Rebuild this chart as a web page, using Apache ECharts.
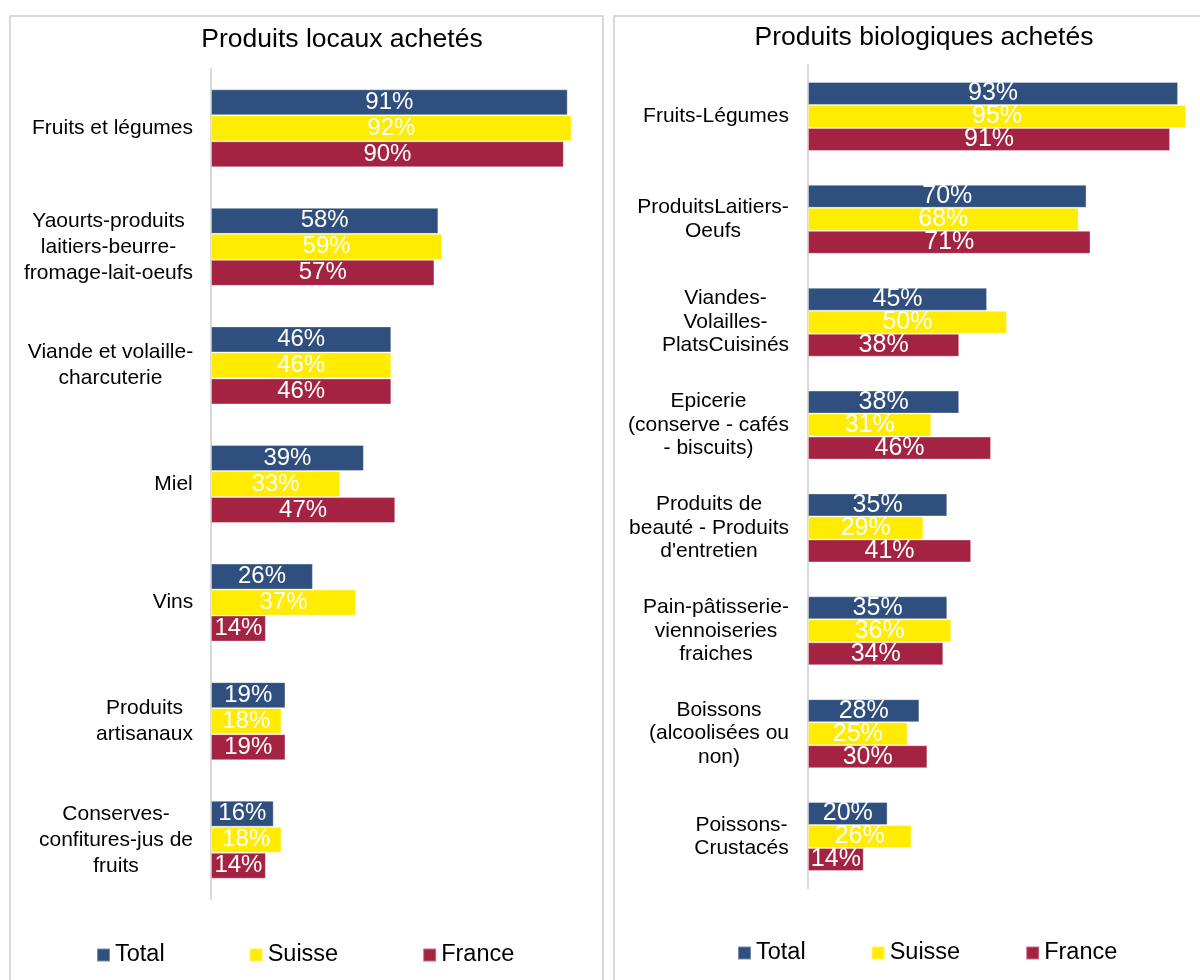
<!DOCTYPE html>
<html>
<head>
<meta charset="utf-8">
<script src="https://cdn.jsdelivr.net/npm/echarts@6/dist/echarts.min.js"></script>
<style>
  html, body { margin: 0; padding: 0; background: #fff; }
  #chart { width: 1200px; height: 980px; }
</style>
</head>
<body>
<div id="chart"></div>
<script>
// produits locaux
var localCats = ['Fruits et légumes', 'Yaourts-produits\nlaitiers-beurre-\nfromage-lait-oeufs', 'Viande et volaille-\ncharcuterie', 'Miel', 'Vins', 'Produits\nartisanaux', 'Conserves-\nconfitures-jus de\nfruits'];
var localTotal = [91, 58, 46, 39, 26, 19, 16];
var localSuisse = [92, 59, 46, 33, 37, 18, 18];
var localFrance = [90, 57, 46, 47, 14, 19, 14];

// produits bio
var bioCats = ['Fruits-Légumes', 'ProduitsLaitiers-\nOeufs', 'Viandes-\nVolailles-\nPlatsCuisinés', 'Epicerie\n(conserve - cafés\n- biscuits)', 'Produits de\nbeauté - Produits\nd\'entretien', 'Pain-pâtisserie-\nviennoiseries\nfraiches', 'Boissons\n(alcoolisées ou\nnon)', 'Poissons-\nCrustacés'];
var bioTotal = [93, 70, 45, 38, 35, 35, 28, 20];
var bioSuisse = [95, 68, 50, 31, 29, 36, 25, 26];
var bioFrance = [91, 71, 38, 46, 41, 34, 30, 14];

var FONT = '"Liberation Sans", Arial, sans-serif';
var colors = { Total: '#2f4f7e', Suisse: '#ffec00', France: '#a52342' };

// lignes centrées dans un bloc aligné à droite
var ctx = document.createElement('canvas').getContext('2d');
function catData(cats, size) {
  ctx.font = size + 'px ' + FONT;
  return cats.map(function (c) {
    var w = Math.max.apply(null, c.split('\n').map(function (l) { return ctx.measureText(l).width; }));
    return { value: c, textStyle: { align: 'center', padding: [0, Math.round(w), 0, 0] } };
  });
}

function barSeries(name, data, idx, bw, fs) {
  return {
    name: name,
    type: 'bar',
    xAxisIndex: idx,
    yAxisIndex: idx,
    data: data,
    barWidth: bw,
    barGap: '0%',
    itemStyle: { color: colors[name], borderColor: 'rgba(255,255,255,0.35)', borderWidth: 1 },
    label: {
      show: true,
      position: 'inside',
      color: '#fff',
      fontSize: fs,
      fontFamily: FONT,
      formatter: '{c}%'
    }
  };
}

var chart = echarts.init(document.getElementById('chart'));
chart.setOption({
  animation: false,
  textStyle: { fontFamily: FONT },
  graphic: [
    { type: 'rect', shape: { x: 10, y: 16, width: 593, height: 1000 }, style: { fill: 'none', stroke: '#d9d9d9', lineWidth: 2 } },
    { type: 'rect', shape: { x: 614, y: 16, width: 620, height: 1000 }, style: { fill: 'none', stroke: '#d9d9d9', lineWidth: 2 } }
  ],
  title: [
    { text: 'Produits locaux achetés', left: 342, top: 26, padding: 0, textAlign: 'center',
      textStyle: { fontSize: 26.5, fontWeight: 'normal', color: '#000', fontFamily: FONT } },
    { text: 'Produits biologiques achetés', left: 924, top: 24, padding: 0, textAlign: 'center',
      textStyle: { fontSize: 26.5, fontWeight: 'normal', color: '#000', fontFamily: FONT } }
  ],
  legend: [
    { data: ['Total', 'Suisse', 'France'], left: 96, top: 943, padding: 0, icon: 'rect', itemWidth: 13, itemHeight: 13,
      itemGap: 84, textStyle: { fontSize: 23.5, color: '#000', fontFamily: FONT } },
    { data: ['Total', 'Suisse', 'France'], left: 737, top: 941, padding: 0, icon: 'rect', itemWidth: 13, itemHeight: 13,
      itemGap: 65, textStyle: { fontSize: 23.5, color: '#000', fontFamily: FONT } }
  ],
  grid: [
    { left: 211, top: 69, width: 392, height: 830 },
    { left: 808, top: 65, width: 382, height: 823 }
  ],
  xAxis: [
    { gridIndex: 0, type: 'value', min: 0, max: 100, show: false, splitLine: { show: false } },
    { gridIndex: 1, type: 'value', min: 0, max: 96, show: false, splitLine: { show: false } }
  ],
  yAxis: [
    { gridIndex: 0, type: 'category', inverse: true, data: catData(localCats, 21),
      axisLine: { lineStyle: { color: '#d9d9d9', width: 2 } }, axisTick: { show: false },
      axisLabel: { interval: 0, margin: 18, fontSize: 21, lineHeight: 26, color: '#000', fontFamily: FONT } },
    { gridIndex: 1, type: 'category', inverse: true, data: catData(bioCats, 21),
      axisLine: { lineStyle: { color: '#d9d9d9', width: 2 } }, axisTick: { show: false },
      axisLabel: { interval: 0, margin: 19, fontSize: 21, lineHeight: 23.5, color: '#000', fontFamily: FONT } }
  ],
  series: [
    barSeries('Total', localTotal, 0, 26, 24),
    barSeries('Suisse', localSuisse, 0, 26, 24),
    barSeries('France', localFrance, 0, 26, 24),
    barSeries('Total', bioTotal, 1, 23, 25),
    barSeries('Suisse', bioSuisse, 1, 23, 25),
    barSeries('France', bioFrance, 1, 23, 25)
  ]
});
</script>
</body>
</html>
